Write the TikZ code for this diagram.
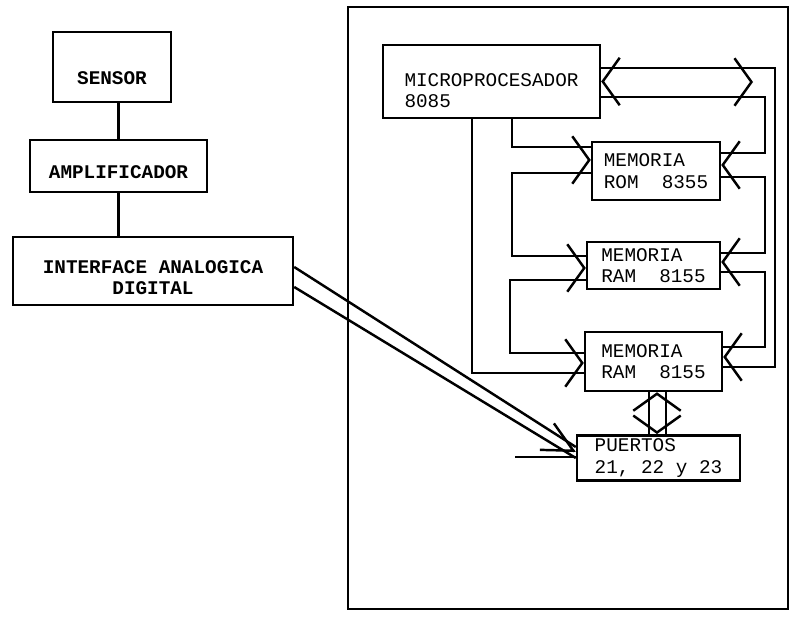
\documentclass[tikz,border=0pt]{standalone}
\usepackage{fontspec}
\setmonofont{Liberation Mono}
\usetikzlibrary{arrows.meta}

\begin{document}
\begin{tikzpicture}[x=0.02cm, y=-0.02cm, line width=1.4pt,
    box/.style={draw, align=left, inner sep=2pt,
        font=\ttfamily\fontsize{11}{12.2}\selectfont},
    lbox/.style={box, align=center,
        font=\ttfamily\bfseries\fontsize{11}{12.2}\selectfont},
    chev/.style={-{Straight Barb[length=0.34cm, width=0.95cm]}},
    chevnarrow/.style={-{Straight Barb[length=0.6cm, width=0.6cm]}}]

    \useasboundingbox (0,0) rectangle (792,618);

    % sensor chain
    \node[lbox, minimum width=2.36cm, minimum height=1.40cm, text height=20pt, text depth=0pt] (sensor) at (112,67) {SENSOR};
    \node[lbox, minimum width=3.54cm, minimum height=1.04cm, text height=14.6pt, text depth=0pt] (ampl) at (118.5,166) {AMPLIFICADOR};
    \node[lbox, minimum width=5.60cm, minimum height=1.36cm, text height=26.8pt, text depth=0pt] (iface) at (153,271) {INTERFACE ANALOGICA\\DIGITAL};

    \draw (sensor.south -| ampl.north) -- (ampl.north);
    \draw (ampl.south) -- (ampl.south |- iface.north);

    % frame of the computer
    \draw (348,7) rectangle (788,609);

    \node[box, minimum width=4.34cm, minimum height=1.46cm, text height=29.6pt, text depth=0pt] (micro) at (491.5,81.5) {MICROPROCESADOR\\8085};
    \node[box, minimum width=2.56cm, minimum height=1.16cm] (rom) at (656,171) {MEMORIA\\ROM~~8355};
    \node[box, minimum width=2.66cm, minimum height=0.94cm] (ram1) at (653.5,265.5) {MEMORIA\\RAM~~8155};
    \node[box, minimum width=2.74cm, minimum height=1.18cm] (ram2) at (653.5,361.5) {MEMORIA\\RAM~~8155};
    \node[box, minimum width=3.26cm, minimum height=0.88cm] (puertos) at (658.5,458) {PUERTOS\\21, 22 y 23};

    % bus on the right
    \coordinate (busend) at (753,82);
    \draw (micro.east |- 0,68) -| (775,367) -- (ram2.east |- 0,367);
    \draw (micro.east |- 0,97) -| (765,153) -- (rom.east |- 0,153);
    \draw (rom.east |- 0,177) -| (765,253) -- (ram1.east |- 0,253);
    \draw (ram1.east |- 0,272) -| (765,347) -- (ram2.east |- 0,347);

    % bus on the left
    \draw (micro.south -| 472,0) |- (ram2.west |- 0,373);
    \draw (micro.south -| 512,0) |- (rom.west |- 0,147);
    \draw (rom.west |- 0,173) -| (512,256) -- (ram1.west |- 0,256);
    \draw (ram1.west |- 0,280) -| (510,353) -- (ram2.west |- 0,353);

    % memoria <-> puertos
    \draw (ram2.south -| 649,0) -- (puertos.north -| 649,0);
    \draw (ram2.south -| 666,0) -- (puertos.north -| 666,0);

    % interface -> puertos
    \coordinate (pin) at (515,457);
    \draw (iface.east |- 0,267) -- (puertos.west |- 0,447);
    \draw (iface.east |- 0,287) -- (puertos.west);
    \draw (pin) -- (puertos.west |- pin);

    % arrow heads
    \foreach \p/\a in {{(micro.east)}/0, {(busend)}/180,
            {(rom.east |- 0,165)}/0, {(ram1.east |- 0,262)}/0, {(ram2.east |- 0,357)}/0,
            {(rom.west |- 0,160)}/180, {(ram1.west |- 0,268)}/180, {(ram2.west |- 0,363)}/180,
            {(ram2.south -| 657,0)}/270, {(puertos.north -| 657,0)}/90} {
        \draw[chev] \p ++(\a:1pt) -- \p;
    }
    \draw[chevnarrow] (puertos.west |- 0,452) ++(152:1pt) -- (puertos.west |- 0,452);

\end{tikzpicture}
\end{document}
